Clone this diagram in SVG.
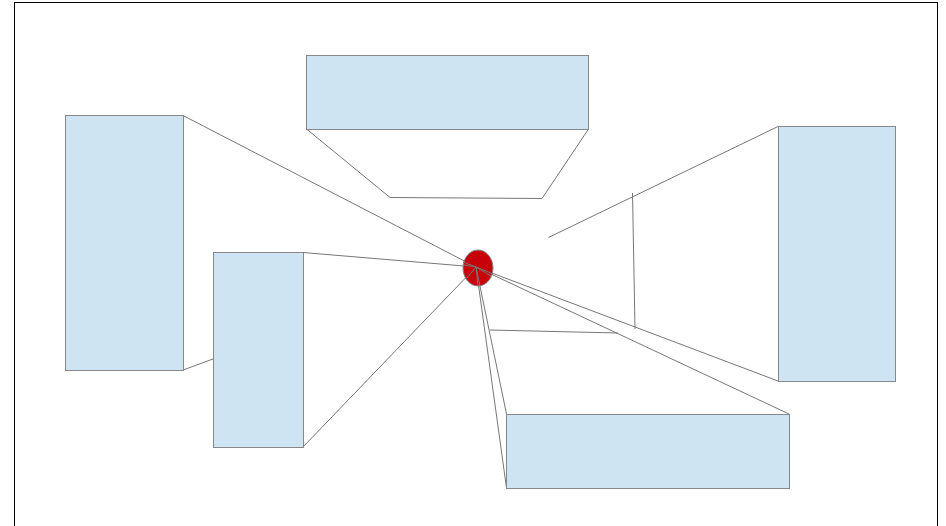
<svg xmlns="http://www.w3.org/2000/svg" width="946" height="526" viewBox="0 0 946 526">
<style>
.box{fill:#cfe4f3;stroke:#888;stroke-width:1}
.ln{fill:none;stroke:#777;stroke-width:1}
</style>
<rect x="0" y="0" width="946" height="526" fill="#fff"/>
<rect x="14.5" y="2.5" width="923" height="530" fill="#fff" stroke="#000" stroke-width="1"/>
<g id="connectors">
<line class="ln" x1="183" y1="115.5" x2="476" y2="267"/>
<line class="ln" x1="183" y1="370" x2="213" y2="359"/>
<line class="ln" x1="303" y1="252.5" x2="476" y2="267"/>
<line class="ln" x1="303" y1="447" x2="476" y2="267"/>
<polyline class="ln" points="306.5,129 390,197.5 542,198.5 588.5,129"/>
<line class="ln" x1="778" y1="126.5" x2="548.5" y2="237.5"/>
<line class="ln" x1="632.5" y1="193" x2="635" y2="329"/>
<line class="ln" x1="490" y1="330" x2="618" y2="333"/>
<line class="ln" x1="778" y1="381" x2="476" y2="267"/>
<line class="ln" x1="789" y1="414" x2="476" y2="267"/>
<line class="ln" x1="506.5" y1="414" x2="476" y2="267"/>
<line class="ln" x1="506.5" y1="488" x2="476" y2="267"/>
</g>
<g id="node-left-big"><rect class="box" x="65.5" y="115.5" width="118" height="255"/></g>
<g id="node-left-small"><rect class="box" x="213.5" y="252.5" width="90" height="195"/></g>
<g id="node-top"><rect class="box" x="306.5" y="55.5" width="282" height="74"/></g>
<g id="node-right"><rect class="box" x="778.5" y="126.5" width="117" height="255"/></g>
<g id="node-bottom"><rect class="box" x="506.5" y="414.5" width="283" height="74"/></g>
<g id="node-center"><ellipse cx="478" cy="268" rx="15" ry="18" fill="#c8000a" stroke="#888" stroke-width="1"/>
<line class="ln" x1="463" y1="262" x2="476" y2="267"/>
<line class="ln" x1="464" y1="265" x2="476" y2="267"/>
<line class="ln" x1="476" y1="267" x2="493" y2="274"/>
<line class="ln" x1="476" y1="267" x2="491" y2="276"/>
<line class="ln" x1="476" y1="267" x2="480" y2="286"/>
<line class="ln" x1="476" y1="267" x2="478" y2="286"/>
<line class="ln" x1="476" y1="267" x2="466" y2="279"/>
</g>
</svg>
